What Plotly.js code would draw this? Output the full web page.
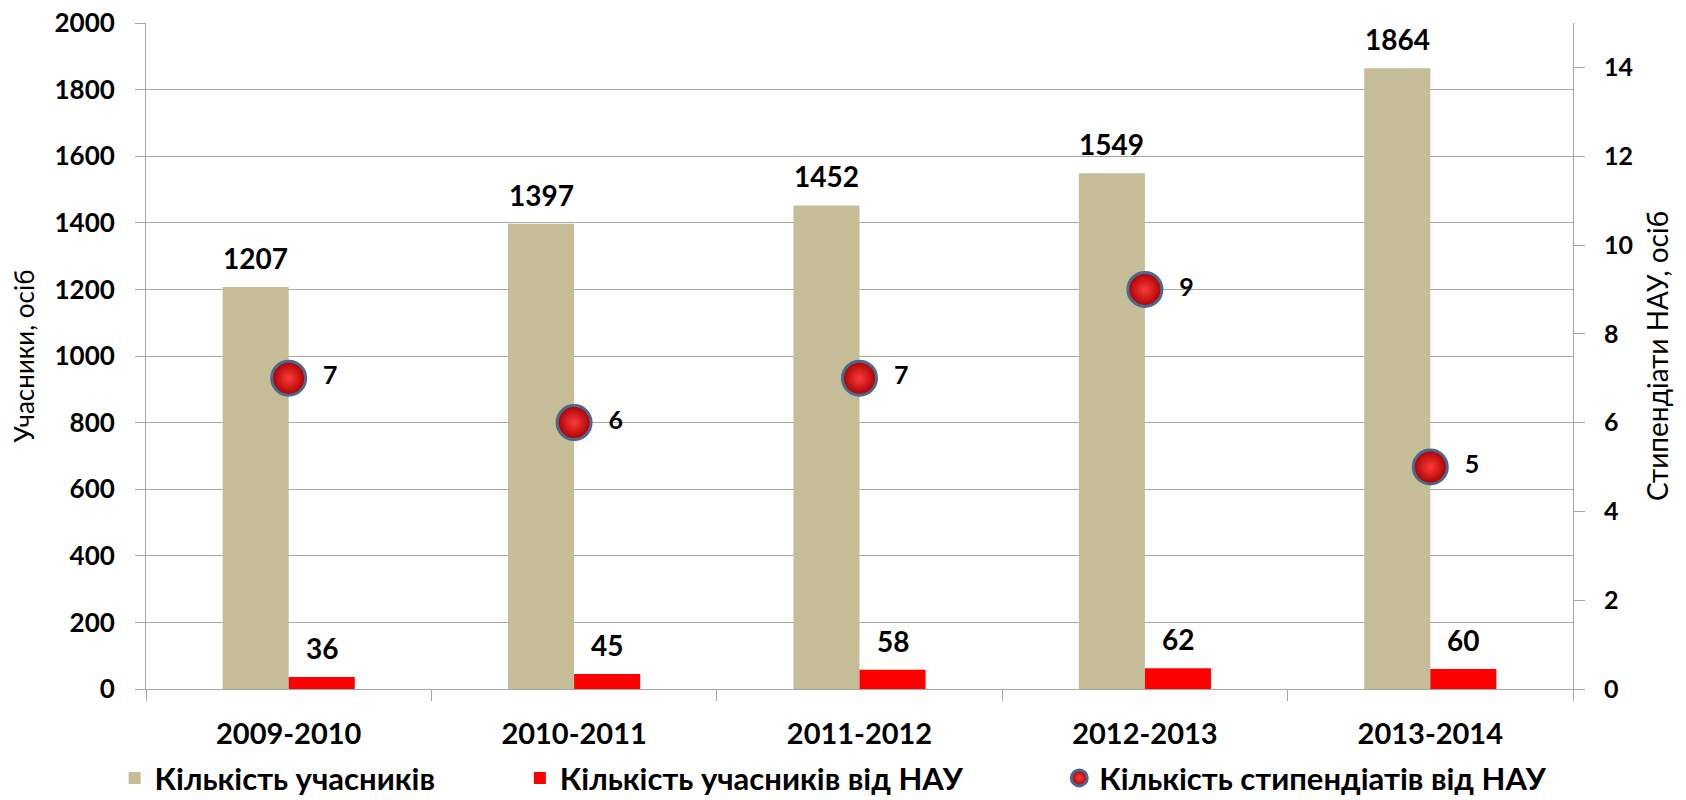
<!DOCTYPE html>
<html>
<head>
<meta charset="utf-8">
<script src="https://cdn.plot.ly/plotly-3.0.1.min.js"></script>
<style>html,body{margin:0;padding:0;background:#fff;}#chart{width:1686px;height:800px;}</style>
</head>
<body>
<div id="chart"></div>
<script>
// ---- data ----
const years = ["2009-2010", "2010-2011", "2011-2012", "2012-2013", "2013-2014"];
const participants = [1207, 1397, 1452, 1549, 1864];
const participantsNAU = [36, 45, 58, 62, 60];
const scholarsNAU = [7, 6, 7, 9, 5];
const seriesNames = ["Кількість учасників", "Кількість учасників від НАУ", "Кількість стипендіатів від НАУ"];
const yTitle = "Учасники, осіб";
const y2Title = "Стипендіати НАУ, осіб";

// ---- layout constants ----
const W = 1686, H = 800;
const margin = {l: 146, r: 113, t: 23, b: 111, autoexpand: false};
const bargap = 0.537;
const FONT = "Lato, 'Open Sans', sans-serif";
const gridCol = "#a6a6a6";

const plotW = W - margin.l - margin.r;
const catW = plotW / years.length;
const barW = catW * (1 - bargap) / 2;

const traces = [
  {type: "bar", x: years, y: participants, name: seriesNames[0],
   marker: {color: "#c4bd97"}, legend: "legend", hoverinfo: "skip"},
  {type: "bar", x: years, y: participantsNAU, name: seriesNames[1],
   marker: {color: "#ff0000"}, legend: "legend2", hoverinfo: "skip"},
  {type: "scatter", mode: "markers+text", x: years, y: scholarsNAU, yaxis: "y2",
   name: seriesNames[2], text: scholarsNAU.map(v => "\u00a0\u00a0" + v),
   textposition: "middle right",
   textfont: {family: FONT, size: 25, weight: 700, color: "#000"},
   marker: {size: 34, color: "#a80000", gradient: {type: "radial", color: "#ff3b3b"},
            line: {color: "#4a6890", width: 3}},
   legend: "legend3", hoverinfo: "skip", cliponaxis: false}
];

const annotations = [];
participants.forEach((v, i) => annotations.push({
  x: years[i], y: v, xref: "x", yref: "y", text: String(v), showarrow: false,
  xshift: -barW / 2, yshift: 29, yanchor: "middle",
  font: {family: FONT, size: 28, weight: 700, color: "#000"}
}));
participantsNAU.forEach((v, i) => annotations.push({
  x: years[i], y: v, xref: "x", yref: "y", text: String(v), showarrow: false,
  xshift: barW / 2, yshift: 29, yanchor: "middle",
  font: {family: FONT, size: 28, weight: 700, color: "#000"}
}));

const legendBase = {orientation: "h", yanchor: "middle", y: -0.134, xanchor: "left",
  font: {family: FONT, size: 31, weight: 700, color: "#000"}, bgcolor: "rgba(0,0,0,0)",
  borderwidth: 0};

const layout = {
  width: W, height: H, margin: margin,
  paper_bgcolor: "#fff", plot_bgcolor: "#fff",
  barmode: "group", bargap: bargap, bargroupgap: 0,
  font: {family: FONT, color: "#000"},
  showlegend: true,
  legend: Object.assign({}, legendBase, {x: -0.022}),
  legend2: Object.assign({}, legendBase, {x: 0.262}),
  legend3: Object.assign({}, legendBase, {x: 0.64}),
  xaxis: {type: "category", showgrid: false, showline: true, linecolor: gridCol, linewidth: 1,
    ticks: "outside", tickson: "boundaries", ticklen: 11, tickcolor: gridCol,
    tickfont: {family: FONT, size: 29, weight: 700, color: "#000"}, ticklabelstandoff: 19},
  yaxis: {range: [0, 2000], dtick: 200, showgrid: true, gridcolor: gridCol, gridwidth: 1,
    showline: true, linecolor: gridCol, ticks: "outside", ticklen: 10, tickcolor: gridCol,
    zeroline: false,
    tickfont: {family: FONT, size: 26, weight: 700, color: "#000"}, ticklabelstandoff: 15,
    title: {text: yTitle, font: {family: FONT, size: 26, color: "#000"}, standoff: 12}},
  yaxis2: {overlaying: "y", side: "right", range: [0, 15], dtick: 2, showgrid: false,
    showline: true, linecolor: gridCol, ticks: "outside", ticklen: 11, tickcolor: gridCol,
    zeroline: false,
    tickfont: {family: FONT, size: 25, weight: 700, color: "#000"}, ticklabelstandoff: 14,
    title: {text: y2Title, font: {family: FONT, size: 28, color: "#000"}, standoff: 16}},
  annotations: annotations
};

Plotly.newPlot("chart", traces, layout, {displayModeBar: false, staticPlot: true});
</script>
</body>
</html>
